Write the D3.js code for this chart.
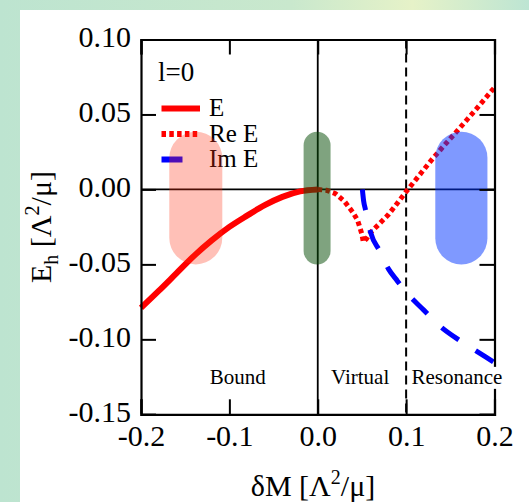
<!DOCTYPE html>
<html>
<head>
<meta charset="utf-8">
<script src="https://cdn.jsdelivr.net/npm/d3@7"></script>
<style>
  body { margin: 0; }
  text { font-family: "Liberation Serif", "Times New Roman", serif; fill: #000; }
</style>
</head>
<body>
<div class="chart"></div>
<script>
// bound state energy E (solid)
const eX = [-0.2, -0.18, -0.16, -0.14, -0.12, -0.10, -0.08, -0.06, -0.04, -0.02, 0];
const eY = [-0.079, -0.0677, -0.056, -0.0443, -0.034, -0.025, -0.0175, -0.0105, -0.005, -0.0013, 0];

// Re E (dotted)
const reX = [0, 0.01, 0.02, 0.03, 0.04, 0.045, 0.048, 0.05, 0.0515, 0.055, 0.06, 0.07, 0.08, 0.09, 0.10, 0.11, 0.12, 0.13, 0.14, 0.16, 0.18, 0.20];
const reY = [0, -0.0006, -0.0028, -0.0078, -0.0155, -0.0205, -0.026, -0.030, -0.035, -0.033, -0.0286, -0.0228, -0.0168, -0.0092, -0.0015, 0.0058, 0.0132, 0.0205, 0.0273, 0.0405, 0.054, 0.068];

// Im E (dashed)
const imX = [0.0505, 0.052, 0.054, 0.056, 0.06, 0.07, 0.08, 0.09, 0.10, 0.12, 0.14, 0.16, 0.18, 0.20];
const imY = [0, -0.008, -0.0135, -0.019, -0.029, -0.041, -0.053, -0.061, -0.0685, -0.0805, -0.092, -0.1005, -0.108, -0.1155];

const xTicks = [-0.2, -0.1, 0.0, 0.1, 0.2];
const yTicks = [0.10, 0.05, 0.00, -0.05, -0.10, -0.15];

// shaded regions: [x0, x1, y0, y1]
const regionNames = ['bound', 'virtual', 'resonance'];
const regionBoxes = [[-0.168, -0.108, -0.050, 0.0385], [-0.016, 0.0145, -0.050, 0.0385], [0.133, 0.192, -0.050, 0.0385]];
const regionColors = ['#ff3010', '#0a4e0a', '#0033ff'];
const regionOpacity = [0.3, 0.52, 0.5];

const labelText = ['Bound', 'Virtual', 'Resonance'];
const labelX = [-0.0905, 0.048, 0.1575];
const labelY = -0.1297;

const legendNames = ['E', 'Re E', 'Im E'];

const W = 529, H = 502;
const svg = d3.select('.chart')
  .append('svg')
  .attr('width', W)
  .attr('height', H);

// background gradient + white panel
const grad = svg.append('defs').append('linearGradient')
  .attr('id', 'bg').attr('x1', 0).attr('x2', 1).attr('y1', 0).attr('y2', 0);
grad.append('stop').attr('offset', 0).attr('stop-color', '#bde4d0');
grad.append('stop').attr('offset', 0.55).attr('stop-color', '#c9e8cd');
grad.append('stop').attr('offset', 0.78).attr('stop-color', '#e6f2c8');
grad.append('stop').attr('offset', 1).attr('stop-color', '#bde5d3');
svg.append('rect').attr('width', W).attr('height', H).attr('fill', 'url(#bg)');
svg.append('rect').attr('x', 20).attr('y', 10).attr('width', W - 20).attr('height', H - 10).attr('fill', '#fff');

const x = d3.scaleLinear().domain([-0.2, 0.2]).range([141, 494.5]);
const y = d3.scaleLinear().domain([-0.15, 0.10]).range([414.3, 39.5]);

// legend (sits under the shaded regions)
const lg = svg.append('g');
lg.append('text').attr('x', 158).attr('y', 80.7)
  .attr('font-size', 27)
  .text('l=0');
const legY = [108.5, 134, 159.5];
lg.append('line').attr('x1', 161.5).attr('x2', 200).attr('y1', legY[0]).attr('y2', legY[0])
  .attr('stroke', '#ff0000').attr('stroke-width', 6);
lg.append('line').attr('x1', 161.5).attr('x2', 200).attr('y1', legY[1]).attr('y2', legY[1])
  .attr('stroke', '#ff0000').attr('stroke-width', 6).attr('stroke-dasharray', '4.5,3.3');
lg.append('line').attr('x1', 161.5).attr('x2', 200).attr('y1', legY[2]).attr('y2', legY[2])
  .attr('stroke', '#0000ff').attr('stroke-width', 6).attr('stroke-dasharray', '21,30');
legendNames.forEach((n, i) => {
  lg.append('text').attr('x', 209).attr('y', legY[i] + 7.5)
    .attr('font-size', 25)
    .text(n);
});

const plot = svg.append('g');

// zero lines and threshold line
plot.append('line')
  .attr('x1', x(0)).attr('x2', x(0)).attr('y1', y(0.10)).attr('y2', y(-0.15))
  .attr('stroke', '#000').attr('stroke-width', 1.8);
plot.append('line')
  .attr('x1', x(-0.2)).attr('x2', x(0.2)).attr('y1', y(0)).attr('y2', y(0))
  .attr('stroke', '#000').attr('stroke-width', 1.8);
plot.append('line')
  .attr('x1', x(0.1)).attr('x2', x(0.1)).attr('y1', y(0.10)).attr('y2', y(-0.15))
  .attr('stroke', '#000').attr('stroke-width', 2)
  .attr('stroke-dasharray', '9,5');

// curves
const toPts = (xs, ys) => xs.map((v, i) => [v, ys[i]]);
const line = d3.line().x(d => x(d[0])).y(d => y(d[1]));

plot.append('path')
  .attr('d', line.curve(d3.curveMonotoneX)(toPts(eX, eY)))
  .attr('fill', 'none').attr('stroke', '#ff0000').attr('stroke-width', 6);

plot.append('path')
  .attr('d', line.curve(d3.curveLinear)(toPts(reX, reY)))
  .attr('fill', 'none').attr('stroke', '#ff0000').attr('stroke-width', 5)
  .attr('stroke-dasharray', '4.5,3.3');

plot.append('path')
  .attr('d', line.curve(d3.curveMonotoneX)(toPts(imX, imY)))
  .attr('fill', 'none').attr('stroke', '#0000ff').attr('stroke-width', 5)
  .attr('stroke-dasharray', '21,20');

// shaded regions on top
plot.selectAll('rect.region')
  .data(regionBoxes)
  .enter()
  .append('rect')
  .attr('class', (d, i) => 'region ' + regionNames[i])
  .attr('x', d => x(d[0]))
  .attr('y', d => y(d[3]))
  .attr('width', d => x(d[1]) - x(d[0]))
  .attr('height', d => y(d[2]) - y(d[3]))
  .attr('rx', d => (x(d[1]) - x(d[0])) / 2)
  .attr('ry', d => (x(d[1]) - x(d[0])) / 2)
  .attr('fill', (d, i) => regionColors[i])
  .attr('fill-opacity', (d, i) => regionOpacity[i]);

// axes frame with inward ticks on all sides
const tickLen = 15;
const axB = svg.append('g').attr('transform', `translate(0,${y(-0.15)})`)
  .call(d3.axisBottom(x).tickValues(xTicks).tickSize(-tickLen).tickFormat(d => d.toFixed(1)).tickPadding(tickLen + 2));
const axT = svg.append('g').attr('transform', `translate(0,${y(0.10)})`)
  .call(d3.axisTop(x).tickValues(xTicks).tickSize(-tickLen).tickFormat(''));
const axL = svg.append('g').attr('transform', `translate(${x(-0.2)},0)`)
  .call(d3.axisLeft(y).tickValues(yTicks).tickSize(-tickLen).tickFormat(d => d.toFixed(2)).tickPadding(tickLen + 10));
const axR = svg.append('g').attr('transform', `translate(${x(0.2)},0)`)
  .call(d3.axisRight(y).tickValues(yTicks).tickSize(-tickLen).tickFormat(''));

[axB, axT, axL, axR].forEach(a => {
  a.select('.domain').attr('stroke', '#000').attr('stroke-width', 2.2);
  a.selectAll('.tick line').attr('stroke', '#000').attr('stroke-width', 2);
});
axB.selectAll('text')
  .attr('font-family', '"Liberation Serif", serif').attr('font-size', 30)
  .attr('dy', null).attr('y', 31.7).attr('fill', '#000');
axL.selectAll('text')
  .attr('font-family', '"Liberation Serif", serif').attr('font-size', 30)
  .attr('dy', null).attr('y', 7.2).attr('x', -10).attr('fill', '#000');

// region labels with white boxes
const lab = svg.append('g');
labelText.forEach((t, i) => {
  const tx = lab.append('text')
    .attr('x', x(labelX[i])).attr('y', y(labelY))
    .attr('text-anchor', 'middle').attr('font-size', 21)
    .text(t);
  const bb = tx.node().getBBox();
  lab.insert('rect', 'text')
    .attr('x', bb.x - 1).attr('y', bb.y + 2).attr('width', bb.width + 2).attr('height', bb.height - 2)
    .attr('fill', '#fff');
});

// axis titles
const xt = svg.append('text')
  .attr('x', 313).attr('y', 496)
  .attr('text-anchor', 'middle').attr('font-size', 30);
xt.append('tspan').text('δM [Λ');
xt.append('tspan').attr('font-size', 20).attr('dy', -12).text('2');
xt.append('tspan').attr('dy', 12).text('/μ]');

const yt = svg.append('text')
  .attr('transform', 'translate(51,227) rotate(-90)')
  .attr('text-anchor', 'middle').attr('font-size', 30);
yt.append('tspan').text('E');
yt.append('tspan').attr('font-size', 20).attr('dy', 7).text('h');
yt.append('tspan').attr('dy', -7).text(' [Λ');
yt.append('tspan').attr('font-size', 20).attr('dy', -12).text('2');
yt.append('tspan').attr('dy', 12).text('/μ]');
</script>
</body>
</html>
